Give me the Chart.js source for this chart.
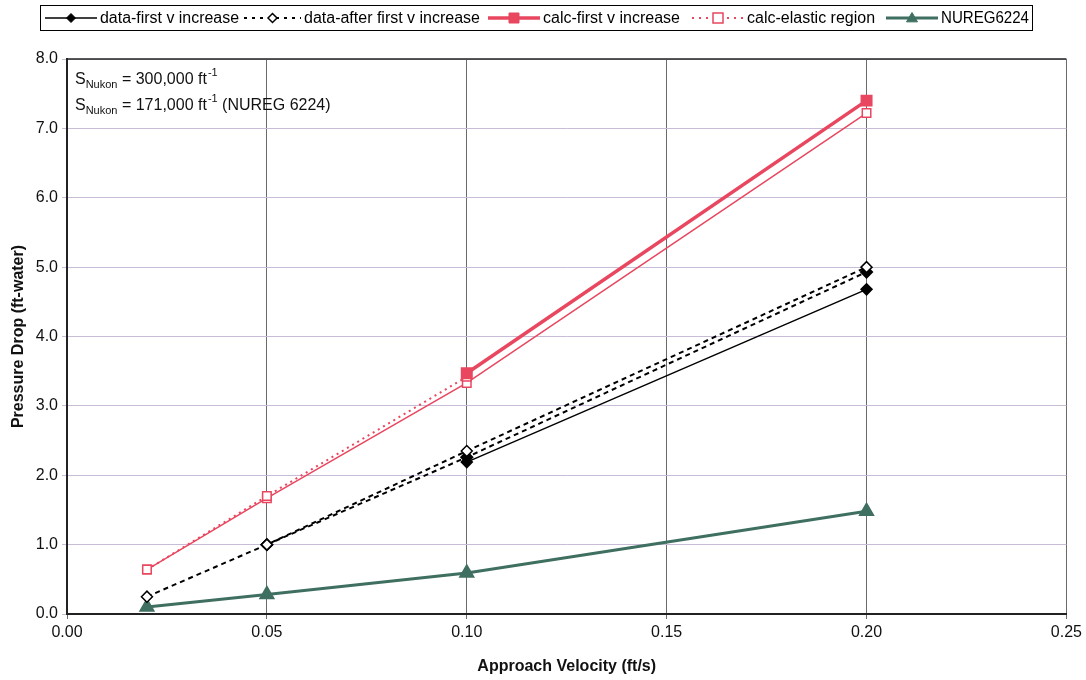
<!DOCTYPE html>
<html>
<head>
<meta charset="utf-8">
<script src="https://cdn.jsdelivr.net/npm/chart.js@4/dist/chart.umd.min.js"></script>
<style>
  html, body { margin: 0; padding: 0; background: #fff; }
  #wrap { width: 1086px; height: 680px; position: relative; }
</style>
</head>
<body>
<div id="wrap"><canvas id="chart" width="1086" height="680"></canvas></div>
<script>
// ── DATA ───────────────────────────────────────────────────────
const velocity     = [0.02, 0.05, 0.10, 0.20];
const dataFirst    = [null, null, 2.19, 4.68];
const dataAfter    = [0.25, 1.00, 2.35, 5.00];
const dataAfter2   = [null, 1.00, 2.26, 4.93];
const calcFirst    = [null, null, 3.47, 7.40];
const calcElastic  = [0.64, 1.70, 3.42, null];
const calcElastic2 = [0.64, 1.67, 3.33, 7.22];
const nureg        = [0.10, 0.28, 0.59, 1.48];

const xTicks = [0.00, 0.05, 0.10, 0.15, 0.20, 0.25];
const yTicks = [0, 1, 2, 3, 4, 5, 6, 7, 8];

const legendLabels = ['data-first v increase', 'data-after first v increase',
                      'calc-first v increase', 'calc-elastic region', 'NUREG6224'];

const FONT = '"Liberation Sans", Arial, sans-serif';
const RED = '#e8475f';
const GREEN = '#3f6f60';

function pts(ys) {
    return velocity.map((x, i) => ({ x: x, y: ys[i] }));
}

// ── DATASETS ───────────────────────────────────────────────────
const datasets = [
    { label: legendLabels[0], data: pts(dataFirst), borderColor: '#000', backgroundColor: '#000',
      borderWidth: 1.5, pointStyle: 'rectRot', pointRadius: 5.5, legend: true },
    { label: legendLabels[1], data: pts(dataAfter), borderColor: '#000', backgroundColor: '#fff',
      borderWidth: 2, borderDash: [5, 4], pointStyle: 'rectRot', pointRadius: 5.5, pointBorderWidth: 1.5,
      legend: true, legendDash: [3, 5] },
    { label: '', data: pts(dataAfter2), borderColor: '#000', backgroundColor: '#000',
      borderWidth: 2, borderDash: [5, 4], pointStyle: 'rectRot', pointRadius: 5.5 },
    { label: legendLabels[2], data: pts(calcFirst), borderColor: RED, backgroundColor: RED,
      borderWidth: 3.5, pointStyle: 'rect', pointRadius: 6, legend: true },
    { label: legendLabels[3], data: pts(calcElastic), borderColor: RED, backgroundColor: '#fff',
      borderWidth: 2, borderDash: [2, 4], pointStyle: 'rect', pointRadius: 6, pointBorderWidth: 1.5,
      legend: true, legendDash: [2, 5] },
    { label: '', data: pts(calcElastic2), borderColor: RED, backgroundColor: '#fff',
      borderWidth: 1.5, pointStyle: 'rect', pointRadius: 6, pointBorderWidth: 1.5 },
    { label: legendLabels[4], data: pts(nureg), borderColor: GREEN, backgroundColor: GREEN,
      borderWidth: 3, pointStyle: 'triangle', pointRadius: 6.5, legend: true },
];

// ── PLUGINS ────────────────────────────────────────────────────
const frame = {
    id: 'frame',
    afterDraw(chart) {
        const { ctx, chartArea: a } = chart;
        ctx.save();
        ctx.strokeStyle = '#222';
        ctx.lineWidth = 1.5;
        ctx.beginPath();
        ctx.moveTo(a.left, a.top);
        ctx.lineTo(a.right, a.top);
        ctx.stroke();

        // annotation text
        ctx.fillStyle = '#111';
        ctx.textBaseline = 'alphabetic';
        const lines = [['300,000 ft', ''], ['171,000 ft', ' (NUREG 6224)']];
        lines.forEach((l, i) => {
            let x = a.left + 8;
            const y = a.top + 25 + i * 26;
            ctx.font = '16px ' + FONT;
            ctx.fillText('S', x, y); x += ctx.measureText('S').width;
            ctx.font = '11px ' + FONT;
            ctx.fillText('Nukon', x, y + 4); x += ctx.measureText('Nukon').width;
            ctx.font = '16px ' + FONT;
            const t = ' = ' + l[0];
            ctx.fillText(t, x, y); x += ctx.measureText(t).width;
            ctx.font = '11px ' + FONT;
            ctx.fillText('-1', x + 1, y - 8); x += ctx.measureText('-1').width + 1;
            ctx.font = '16px ' + FONT;
            ctx.fillText(l[1], x, y);
        });

        // legend
        const lx0 = 40, ly0 = 5, lx1 = 1032, ly1 = 30;
        ctx.strokeStyle = '#000';
        ctx.lineWidth = 1;
        ctx.strokeRect(lx0 + 0.5, ly0 + 0.5, lx1 - lx0, ly1 - ly0);
        const entries = chart.data.datasets.filter(d => d.legend);
        const sampleX = [45, 244, 488, 692, 886];
        const sampleW = [52, 57, 52, 52, 52];
        const textW   = [139, 176, 138, 131, 88];
        ctx.font = '16px ' + FONT;
        entries.forEach((d, i) => {
            const sx = sampleX[i], sw = sampleW[i], cy = 18;
            ctx.save();
            ctx.strokeStyle = d.borderColor;
            ctx.lineWidth = d.borderWidth;
            ctx.setLineDash(d.legendDash || []);
            ctx.beginPath();
            ctx.moveTo(sx, cy);
            ctx.lineTo(sx + sw, cy);
            ctx.stroke();
            ctx.restore();
            ctx.save();
            ctx.fillStyle = d.backgroundColor;
            ctx.strokeStyle = d.borderColor;
            ctx.lineWidth = d.pointBorderWidth || 1;
            ctx.beginPath();
            const r = d.pointRadius - 1;
            const cx = sx + sw / 2;
            if (d.pointStyle === 'rectRot') {
                ctx.moveTo(cx, cy - r); ctx.lineTo(cx + r, cy); ctx.lineTo(cx, cy + r); ctx.lineTo(cx - r, cy); ctx.closePath();
            } else if (d.pointStyle === 'rect') {
                ctx.rect(cx - r, cy - r, 2 * r, 2 * r);
            } else {
                ctx.moveTo(cx, cy - r); ctx.lineTo(cx + r, cy + r * 0.7); ctx.lineTo(cx - r, cy + r * 0.7); ctx.closePath();
            }
            ctx.fill();
            ctx.stroke();
            ctx.restore();
            ctx.fillStyle = '#000';
            ctx.textBaseline = 'middle';
            ctx.fillText(d.label, sx + sw + 3, cy + 1, textW[i]);
        });
        ctx.restore();
    }
};

// ── CHART ──────────────────────────────────────────────────────
new Chart(document.getElementById('chart').getContext('2d'), {
    type: 'line',
    data: { datasets },
    options: {
        responsive: false,
        animation: false,
        layout: { padding: { top: 59, right: 18, left: 0, bottom: 0 } },
        plugins: { legend: { display: false }, tooltip: { enabled: false } },
        elements: { line: { tension: 0 } },
        scales: {
            x: {
                type: 'linear',
                min: 0, max: 0.25,
                afterBuildTicks: s => { s.ticks = xTicks.map(v => ({ value: v })); },
                afterFit: s => { s.height = 66; },
                ticks: {
                    color: '#111', font: { family: FONT, size: 16 }, padding: 4,
                    callback: v => v.toFixed(2)
                },
                grid: { color: '#6a6a6a', lineWidth: 1, tickLength: 5, drawTicks: true },
                border: { color: '#222', width: 2 },
                title: { display: true, text: 'Approach Velocity (ft/s)', color: '#111',
                         font: { family: FONT, size: 16, weight: 'bold' }, padding: { top: 6 } }
            },
            y: {
                min: 0, max: 8,
                afterBuildTicks: s => { s.ticks = yTicks.map(v => ({ value: v })); },
                afterFit: s => { s.width = 67; },
                ticks: {
                    color: '#111', font: { family: FONT, size: 16 }, padding: 4,
                    callback: v => v.toFixed(1)
                },
                grid: { color: '#c8bcd6', lineWidth: 1, tickLength: 5 },
                border: { color: '#222', width: 2 },
                title: { display: true, text: 'Pressure Drop (ft-water)', color: '#111',
                         font: { family: FONT, size: 16, weight: 'bold' }, padding: { top: 9, bottom: 0 } }
            }
        }
    },
    plugins: [frame]
});
</script>
</body>
</html>
